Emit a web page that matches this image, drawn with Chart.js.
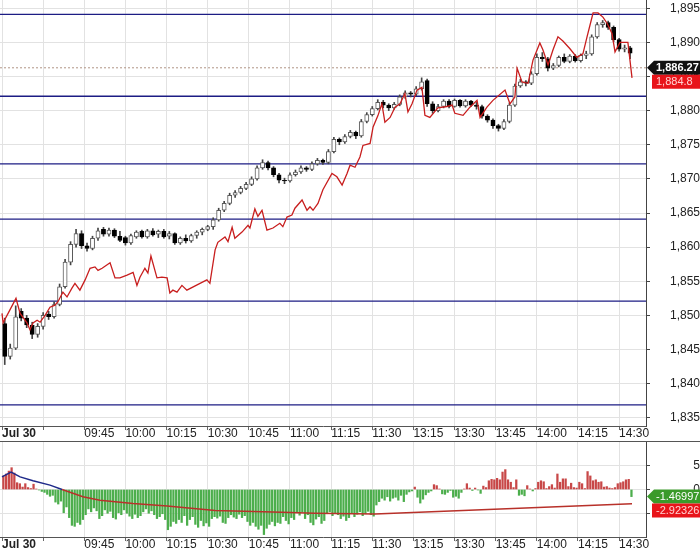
<!DOCTYPE html>
<html>
<head>
<meta charset="utf-8">
<script src="https://cdn.jsdelivr.net/npm/chart.js@4.4.0/dist/chart.umd.min.js"></script>
<style>
  html, body { margin: 0; padding: 0; background: #fff; overflow: hidden; }
  #price { position: absolute; left: 0; top: 0; width: 700px; height: 441px; }
  #osc { position: absolute; left: 0; top: 441px; width: 700px; height: 120px; border-top: 1px solid #555; }
</style>
</head>
<body>
<div id="price"><canvas id="priceChart"></canvas></div>
<div id="osc"><canvas id="oscChart"></canvas></div>
<script>
const FONT = '"Liberation Sans", Arial, sans-serif';

// session minutes since 09:15 (lunch break removed, 11:30 == 13:00)
const tickMinutes = [0, 15, 30, 45, 60, 75, 90, 105, 120, 135, 150, 165, 180, 195, 210, 225];
const tickLabels = ['Jul 30', '', '09:45', '10:00', '10:15', '10:30', '10:45', '11:00', '11:15',
  '11:30', '13:15', '13:30', '13:45', '14:00', '14:15', '14:30'];

// 2-minute candles of the futures contract
const opens = [
  1848.8, 1844.0, 1845.2, 1850.6, 1849.6, 1848.6, 1847.2, 1848.4, 1850.2, 1849.8,
  1851.6, 1854.2, 1857.8, 1860.4, 1862.0, 1860.2, 1859.8, 1861.3, 1862.6, 1861.9,
  1862.5, 1861.6, 1861.4, 1860.6, 1861.5, 1862.3, 1861.5, 1862.4, 1861.9, 1862.3,
  1861.6, 1862.0, 1860.6, 1861.3, 1860.9, 1861.7, 1862.2, 1862.6, 1863.0, 1864.0,
  1865.4, 1866.4, 1867.6, 1868.0, 1868.6, 1869.2, 1870.0, 1871.6, 1872.4, 1871.6,
  1870.6, 1869.8, 1869.7, 1870.6, 1871.0, 1871.6, 1871.4, 1872.2, 1872.7, 1872.4,
  1874.0, 1875.8, 1875.4, 1876.2, 1876.8, 1876.3, 1878.4, 1879.4, 1880.3, 1881.2,
  1880.8, 1880.4, 1880.9, 1882.0, 1882.6, 1882.4, 1883.2, 1884.4, 1881.0, 1880.0,
  1880.6, 1881.4, 1880.6, 1881.5, 1880.7, 1881.4, 1880.8, 1880.6, 1879.2, 1878.6,
  1877.8, 1877.4, 1878.4, 1880.8, 1883.6, 1884.2, 1884.0, 1885.4, 1887.8, 1887.6,
  1886.2, 1886.6, 1887.8, 1887.2, 1888.0, 1887.3, 1888.1, 1888.3, 1890.8, 1892.6,
  1892.9, 1892.2, 1890.4, 1889.0, 1889.2];
const highs = [
  1849.6, 1845.8, 1851.4, 1851.0, 1850.0, 1849.0, 1848.8, 1850.4, 1850.6, 1852.0,
  1854.6, 1858.2, 1860.8, 1862.6, 1862.4, 1860.6, 1861.6, 1862.8, 1862.9, 1862.8,
  1862.7, 1862.3, 1861.6, 1861.9, 1862.4, 1862.5, 1862.6, 1862.7, 1862.5, 1862.6,
  1862.3, 1862.1, 1861.5, 1861.8, 1861.9, 1862.4, 1862.8, 1863.2, 1864.3, 1865.7,
  1866.7, 1867.9, 1868.3, 1868.9, 1869.5, 1870.3, 1871.9, 1872.8, 1872.6, 1871.8,
  1870.8, 1870.1, 1870.9, 1871.3, 1871.9, 1871.8, 1872.5, 1873.0, 1872.9, 1874.3,
  1876.1, 1876.0, 1876.5, 1877.1, 1877.0, 1878.7, 1879.7, 1880.6, 1881.6, 1881.5,
  1881.0, 1881.2, 1882.3, 1882.9, 1882.8, 1883.5, 1884.8, 1884.6, 1881.3, 1880.9,
  1881.6, 1881.6, 1881.7, 1881.6, 1881.6, 1881.5, 1881.2, 1880.8, 1879.4, 1878.8,
  1878.0, 1878.7, 1881.1, 1883.9, 1884.6, 1884.4, 1885.7, 1888.3, 1888.5, 1887.8,
  1886.9, 1888.0, 1888.3, 1888.2, 1888.2, 1888.3, 1888.7, 1891.1, 1892.9, 1893.2,
  1893.1, 1892.4, 1890.6, 1889.6, 1889.4];
const lows = [
  1842.8, 1843.6, 1845.0, 1849.2, 1848.2, 1846.6, 1846.8, 1848.0, 1849.4, 1849.6,
  1851.4, 1854.0, 1857.4, 1860.0, 1859.8, 1859.4, 1859.6, 1861.0, 1861.6, 1861.6,
  1861.4, 1860.8, 1860.3, 1860.4, 1861.3, 1861.3, 1861.3, 1861.6, 1861.4, 1861.3,
  1861.2, 1860.4, 1860.4, 1860.6, 1860.7, 1861.3, 1861.8, 1862.4, 1862.6, 1863.8,
  1865.2, 1866.2, 1867.3, 1867.8, 1868.4, 1869.0, 1869.8, 1871.4, 1871.3, 1870.3,
  1869.4, 1869.3, 1869.5, 1870.4, 1870.8, 1871.1, 1871.2, 1872.0, 1872.1, 1872.2,
  1873.8, 1875.0, 1875.2, 1876.0, 1875.9, 1876.1, 1878.2, 1879.2, 1880.1, 1880.4,
  1880.0, 1880.2, 1880.7, 1881.8, 1882.0, 1882.2, 1883.0, 1880.6, 1879.6, 1879.8,
  1880.4, 1880.4, 1880.5, 1880.5, 1880.5, 1880.6, 1880.2, 1878.9, 1878.3, 1877.4,
  1877.0, 1877.2, 1878.2, 1880.6, 1883.4, 1883.6, 1883.8, 1885.2, 1887.2, 1885.8,
  1886.0, 1886.4, 1887.0, 1887.0, 1887.1, 1887.1, 1887.6, 1888.1, 1890.6, 1892.2,
  1891.9, 1890.1, 1888.7, 1888.6, 1887.6];
const closes = [
  1844.0, 1845.2, 1849.8, 1849.6, 1848.6, 1847.2, 1848.4, 1850.0, 1849.8, 1851.6,
  1854.2, 1857.8, 1860.4, 1862.0, 1860.2, 1859.8, 1861.3, 1862.4, 1861.9, 1862.5,
  1861.6, 1861.0, 1860.6, 1861.7, 1862.2, 1861.5, 1862.4, 1861.8, 1862.3, 1861.5,
  1862.0, 1860.6, 1861.3, 1860.9, 1861.7, 1862.2, 1862.6, 1863.0, 1864.0, 1865.4,
  1866.4, 1867.6, 1868.0, 1868.6, 1869.2, 1870.0, 1871.6, 1872.4, 1871.6, 1870.6,
  1869.8, 1869.7, 1870.6, 1871.0, 1871.6, 1871.4, 1872.2, 1872.7, 1872.4, 1874.0,
  1875.8, 1875.4, 1876.2, 1876.8, 1876.3, 1878.4, 1879.4, 1880.3, 1881.2, 1880.8,
  1880.4, 1880.9, 1882.0, 1882.6, 1882.4, 1883.2, 1884.2, 1881.0, 1880.0, 1880.6,
  1881.4, 1880.6, 1881.5, 1880.7, 1881.4, 1880.8, 1880.6, 1879.2, 1878.6, 1877.8,
  1877.4, 1878.4, 1880.8, 1883.6, 1884.2, 1884.0, 1885.4, 1887.8, 1887.6, 1886.2,
  1886.6, 1887.8, 1887.2, 1888.0, 1887.3, 1888.1, 1888.3, 1890.8, 1892.6, 1892.9,
  1892.2, 1890.4, 1889.0, 1889.2, 1888.4];

// underlying index (red line)
const spotMinutes = [
  0, 0.4, 5.1, 6.6, 9.1, 10.2, 11.3, 12.8, 13.9, 15.7,
  17.5, 19.3, 20.4, 22.2, 23.7, 25.5, 26.6, 28.4, 30.3, 32.1,
  33.9, 35.0, 36.5, 39.4, 41.2, 43.0, 45.6, 47.8, 49.2, 50.3,
  52.1, 53.2, 54.3, 56.5, 58.3, 60.2, 61.2, 62.3, 63.8, 65.6,
  67.4, 72.2, 74.7, 75.8, 77.7, 78.7, 81.3, 82.4, 83.9, 84.9,
  87.5, 89.7, 90.4, 92.2, 93.3, 94.8, 96.6, 98.8, 101.3, 102.4,
  103.9, 105.7, 106.8, 109.4, 111.2, 112.3, 113.4, 115.2, 117.0, 120.3,
  122.1, 124.0, 125.8, 126.9, 128.7, 130.5, 131.6, 134.2, 135.3, 137.1,
  138.5, 139.6, 141.5, 143.3, 145.1, 146.9, 148.0, 149.5, 151.3, 153.1,
  154.2, 156.0, 158.9, 162.2, 164.1, 165.1, 168.1, 170.6, 173.2, 174.3,
  176.8, 179.0, 183.4, 185.2, 187.0, 187.8, 189.6, 191.8, 193.6, 196.1,
  197.2, 199.1, 200.9, 202.7, 204.5, 207.0, 209.6, 211.8, 213.3, 215.5,
  217.3, 219.1, 220.6, 222.4, 223.5, 225.3, 228.2, 229.7];
const spotValues = [
  1850.3, 1848.9, 1852.5, 1850.3, 1848.9, 1847.9, 1848.9, 1849.3, 1849.0, 1850.0,
  1851.2, 1851.5, 1852.0, 1853.4, 1852.7, 1854.0, 1854.7, 1853.7, 1855.2, 1856.9,
  1857.1, 1856.6, 1856.9, 1857.7, 1855.5, 1855.5, 1855.9, 1856.3, 1854.4, 1855.6,
  1856.9, 1856.2, 1858.7, 1855.5, 1855.6, 1855.5, 1853.3, 1853.7, 1853.4, 1854.4,
  1853.7, 1854.7, 1855.2, 1854.7, 1859.6, 1860.7, 1861.5, 1860.8, 1862.9, 1861.3,
  1862.2, 1863.2, 1862.8, 1865.6, 1864.5, 1865.4, 1862.5, 1862.8, 1863.5, 1863.0,
  1864.4, 1864.7, 1865.7, 1866.9, 1865.4, 1865.9, 1865.4, 1866.4, 1868.4, 1870.8,
  1870.3, 1869.1, 1870.8, 1872.0, 1871.7, 1873.2, 1874.9, 1875.2, 1877.6, 1879.3,
  1881.0, 1878.3, 1879.0, 1880.5, 1881.0, 1882.5, 1879.8, 1881.0, 1883.0, 1883.4,
  1879.3, 1879.0, 1880.4, 1880.6, 1880.8, 1879.6, 1879.3, 1880.5, 1881.5, 1879.0,
  1880.5, 1881.5, 1883.0, 1881.0, 1882.0, 1886.2, 1884.2, 1884.0, 1887.4, 1889.9,
  1888.9, 1886.7, 1888.9, 1890.8, 1890.2, 1889.1, 1887.8, 1888.3, 1890.8, 1894.3,
  1894.3, 1893.7, 1892.8, 1891.3, 1888.6, 1890.0, 1890.0, 1884.8];

// horizontal support / resistance levels
const levels = [1894.1, 1882.1, 1872.2, 1864.1, 1852.1, 1836.9];
const lastPrice = 1886.27;
const lastSpot = 1884.8;

// lower panel: 1-minute histogram and its signal line
const histValues = [
  2.8, 3.2, 3.8, 4.5, 3.4, 1.4, 1.2, 0.5, 1.2, 0.4,
  0.2, 1.1, 0.1, -0.1, -0.4, -0.6, -1.0, -1.4, -1.2, -2.6,
  -3.0, -2.4, -4.8, -3.6, -5.8, -7.4, -7.6, -6.8, -7.2, -6.2,
  -5.2, -4.0, -4.6, -3.8, -4.4, -6.0, -5.4, -4.2, -4.9, -4.5,
  -5.8, -6.1, -4.8, -5.2, -4.2, -4.9, -5.5, -6.0, -5.1, -5.8,
  -5.4, -4.6, -4.0, -4.9, -4.4, -5.2, -6.0, -5.6, -5.0, -6.2,
  -8.3, -7.6, -6.6, -7.0, -6.2, -6.8, -5.4, -7.4, -6.2, -5.6,
  -7.2, -7.8, -6.4, -7.5, -6.9, -7.6, -6.0, -5.6, -5.9, -5.5,
  -6.8, -7.0, -5.8, -5.2, -5.7, -6.0, -5.1, -5.8, -5.4, -6.6,
  -7.4, -6.8, -7.6, -8.2, -7.4, -9.3, -8.0, -7.2, -6.6, -7.5,
  -6.8, -7.0, -5.6, -6.4, -7.1, -5.8, -6.2, -4.8, -5.3, -4.6,
  -6.0, -5.2, -6.8, -7.3, -6.1, -5.6, -7.0, -6.4, -5.0, -4.6,
  -5.4, -4.8, -5.2, -6.0, -5.5, -6.4, -5.8, -4.9, -5.6, -5.1,
  -4.6, -5.4, -5.0, -4.5, -5.2, -5.5, -3.2, -2.5, -1.8, -2.2,
  -1.5, -2.4, -1.8, -1.6, -2.2, -1.2, -2.5, -1.0, -0.5, -0.3,
  0.5, -1.6, -2.8, -2.0, -1.1, -0.6, -0.3, 1.0, 0.8, 0.1,
  -0.9, -1.0, -0.6, -0.2, -1.6, -1.4, -1.8, -0.6, 0.1, 1.2,
  0.3, -0.2, 0.3, -0.1, -0.8, 0.7, 0.4, 1.8, 2.1, 2.0,
  2.3, 2.0, 3.6, 4.1, 2.0, 1.5, 0.4, 2.0, -1.2, -1.0,
  -1.3, 0.8, 0.1, -0.3, 0.2, 1.5, 1.8, 1.6, 0.2, 0.6,
  1.0, 0.3, 3.2, 1.5, 2.2, 2.2, 0.6, 1.3, 0.4, 0.3,
  1.5, 1.2, 0.2, 3.7, 2.8, 1.8, 2.0, 1.5, 1.6, 0.5,
  0.6, 0.3, 0.2, 0.4, 1.2, 1.4, 1.6, 2.0, 2.1, -1.46997];
const signalMinutes = [0, 3.3, 6.6, 11.3, 17.5, 21.9, 29.5, 35.7, 47.8, 60.2, 77.7, 102, 114, 136, 229.7];
const signalValues = [2.6, 3.6, 2.6, 1.8, 0.9, 0.0, -1.5, -2.2, -2.9, -3.4, -4.35, -4.7, -4.9, -5.05, -2.92326];

const X_MIN = -0.73, X_MAX = 234.8;
const fmt = v => v.toLocaleString('en-US', { maximumFractionDigits: 5 });

const valueTags = {
  id: 'valueTags',
  afterDraw(chart, args, opts) {
    const { ctx, chartArea } = chart;
    const y = chart.scales.y;
    let prevBottom = -Infinity;
    ctx.save();
    ctx.textBaseline = 'middle';
    ctx.textAlign = 'left';
    opts.tags.forEach(t => {
      const h = 14;
      let cy = y.getPixelForValue(t.value);
      if (cy - h / 2 < prevBottom) cy = prevBottom + h / 2;
      const top = cy - h / 2;
      const x0 = chartArea.right + (t.arrow ? 1 : 6);
      ctx.fillStyle = t.bg;
      ctx.beginPath();
      if (t.arrow) {
        ctx.moveTo(x0, cy);
        ctx.lineTo(x0 + 7, top);
        ctx.lineTo(chart.width, top);
        ctx.lineTo(chart.width, top + h);
        ctx.lineTo(x0 + 7, top + h);
        ctx.closePath();
      } else {
        ctx.rect(x0, top, chart.width - x0, h);
      }
      ctx.fill();
      ctx.fillStyle = t.fg;
      ctx.font = (t.bold ? 'bold ' : '') + '11px ' + FONT;
      ctx.fillText(fmt(t.value), chartArea.right + 10, cy + 0.5);
      prevBottom = top + h;
    });
    ctx.restore();
  }
};

function timeAxis(height) {
  return {
    type: 'linear',
    min: X_MIN,
    max: X_MAX,
    offset: false,
    afterBuildTicks: s => { s.ticks = tickMinutes.map(v => ({ value: v })); },
    afterFit: s => { s.height = height; s.paddingLeft = 0; s.paddingRight = 0; },
    grid: { offset: false, color: '#e2e2e2', tickColor: '#666', tickLength: 4 },
    border: { color: '#555' },
    ticks: {
      align: 'start',
      padding: -3.5,
      autoSkip: false,
      maxRotation: 0,
      color: '#222',
      font: c => ({ family: FONT, size: 12, weight: c.index === 0 ? 'bold' : 'normal' }),
      callback: (v, i) => tickLabels[i]
    }
  };
}

const flat = (v, extra) => Object.assign({
  type: 'line',
  data: [{ x: X_MIN, y: v }, { x: X_MAX, y: v }],
  pointRadius: 0,
  borderWidth: 1.3,
  borderColor: '#1c1c84',
  order: 4
}, extra);

new Chart(document.getElementById('priceChart'), {
  type: 'bar',
  data: {
    datasets: [
      ...levels.map(v => flat(v)),
      flat(lastPrice, { borderColor: '#b09585', borderWidth: 1, borderDash: [2, 2], order: 5 }),
      {
        type: 'bar',
        data: lows.map((l, i) => ({ x: i * 2 + 1, y: [l, highs[i]] })),
        backgroundColor: '#444',
        barThickness: 1,
        grouped: false,
        order: 2
      },
      {
        type: 'bar',
        data: opens.map((o, i) => ({ x: i * 2 + 1, y: [o, closes[i]] })),
        backgroundColor: opens.map((o, i) => closes[i] >= o ? '#ffffff' : '#000000'),
        borderColor: opens.map((o, i) => closes[i] >= o ? '#5a5a5a' : '#000000'),
        borderWidth: 1,
        borderSkipped: false,
        barThickness: 4.2,
        grouped: false,
        order: 1
      },
      {
        type: 'line',
        data: spotMinutes.map((m, i) => ({ x: m, y: spotValues[i] })),
        borderColor: '#c81e1e',
        borderWidth: 1.3,
        pointRadius: 0,
        tension: 0,
        order: 0
      }
    ]
  },
  options: {
    responsive: true,
    maintainAspectRatio: false,
    animation: false,
    layout: { padding: 0 },
    scales: {
      x: timeAxis(15),
      y: {
        position: 'right',
        min: 1833.8,
        max: 1896.2,
        afterFit: s => { s.width = 54; s.paddingTop = 0; s.paddingBottom = 0; },
        grid: { color: '#e2e2e2', tickColor: '#444', tickLength: 4 },
        border: { color: '#444' },
        ticks: {
          stepSize: 5,
          includeBounds: false,
          padding: 17,
          crossAlign: 'far',
          color: '#222',
          font: { family: FONT, size: 12 },
          callback: v => v.toLocaleString('en-US')
        }
      }
    },
    plugins: {
      legend: { display: false },
      tooltip: { enabled: false },
      valueTags: {
        tags: [
          { value: lastPrice, bg: '#111111', fg: '#ffffff', arrow: true, bold: true },
          { value: lastSpot, bg: '#e8141a', fg: '#ffd2d2', arrow: false }
        ]
      }
    }
  },
  plugins: [valueTags]
});

new Chart(document.getElementById('oscChart'), {
  type: 'bar',
  data: {
    datasets: [
      {
        type: 'line',
        data: signalMinutes.map((m, i) => ({ x: m, y: signalValues[i] })),
        borderWidth: 1.5,
        pointRadius: 0,
        tension: 0,
        segment: { borderColor: c => c.p1.parsed.y >= 0 ? '#1f2a8a' : '#b8312a' },
        borderColor: '#b8312a',
        order: 0
      },
      {
        type: 'bar',
        data: histValues.map((v, i) => ({ x: i + 0.5, y: v })),
        backgroundColor: histValues.map(v => v >= 0 ? '#c84848' : '#4cae4c'),
        barThickness: 1.6,
        grouped: false,
        order: 1
      }
    ]
  },
  options: {
    responsive: true,
    maintainAspectRatio: false,
    animation: false,
    layout: { padding: 0 },
    scales: {
      x: timeAxis(25),
      y: {
        position: 'right',
        min: -9.8,
        max: 9.8,
        afterBuildTicks: s => { s.ticks = [-5, 0, 5].map(v => ({ value: v })); },
        afterFit: s => { s.width = 54; s.paddingTop = 0; s.paddingBottom = 0; },
        grid: { color: '#e2e2e2', tickColor: '#444', tickLength: 4 },
        border: { color: '#444' },
        ticks: {
          padding: 36,
          crossAlign: 'far',
          color: '#222',
          font: { family: FONT, size: 12 }
        }
      }
    },
    plugins: {
      legend: { display: false },
      tooltip: { enabled: false },
      valueTags: {
        tags: [
          { value: histValues[histValues.length - 1], bg: '#3a9a2a', fg: '#ffffff', arrow: true },
          { value: signalValues[signalValues.length - 1], bg: '#e8141a', fg: '#ffd2d2', arrow: false }
        ]
      }
    }
  },
  plugins: [valueTags]
});
</script>
</body>
</html>
